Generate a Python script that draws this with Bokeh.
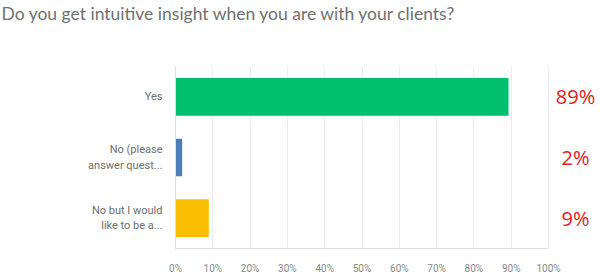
from bokeh.plotting import figure
from bokeh.models import ColumnDataSource, FactorRange, Range1d, FixedTicker, Title
from bokeh.core.properties import value
from bokeh.embed import file_html
from bokeh.resources import INLINE

categories = ["Yes", "No (please\nanswer quest...", "No but I would\nlike to be a..."]
values = [89.29, 1.79, 8.93]
colors = ["#00bf6f", "#507cb6", "#f9be00"]
pct_labels = ["89%", "2%", "9%"]
ticks = [0, 10, 20, 30, 40, 50, 60, 70, 80, 90, 100]
title = "Do you get intuitive insight when you are with your clients?"

src = ColumnDataSource(dict(cat=categories, val=values, color=colors, lab=pct_labels,
                            xlab=[100] * len(categories)))

p = figure(width=600, height=276, output_backend="svg", toolbar_location=None, title=None,
           y_range=FactorRange(*categories[::-1]), x_range=Range1d(0, 100 * 425 / 373),
           min_border_left=175, min_border_right=0, min_border_top=0, min_border_bottom=23)

spacer = Title(text=" ", text_font_size="36px", standoff=0)
p.add_layout(spacer, "above")
main_title = Title(text=title, text_font="Lato", text_font_size="17.5px",
                   text_font_style="normal", text_color="#707070", offset=-174, standoff=0,
                   text_line_height=1.0)
p.add_layout(main_title, "above")

p.hbar(y="cat", right="val", left=0, height=0.62, color="color", source=src, line_color=None)

p.text(x="xlab", y="cat", text="lab", source=src, x_offset=27,
       text_align="center", text_baseline="middle",
       text_font=value("Open Sans"), text_font_size="20px", text_color="#e0201c")

p.xaxis.ticker = FixedTicker(ticks=ticks)
p.xaxis.major_label_overrides = {t: f"{t}%" for t in ticks}
p.xaxis.bounds = (0, 100)
p.xaxis.axis_line_color = "#dddddd"
p.xaxis.major_tick_line_color = None
p.xaxis.minor_tick_line_color = None
p.xaxis.major_label_text_font = "Roboto"
p.xaxis.major_label_text_font_size = "10px"
p.xaxis.major_label_text_color = "#8a8a8a"
p.xaxis.major_label_standoff = 8

p.yaxis.axis_line_color = "#dddddd"
p.yaxis.major_tick_line_color = None
p.yaxis.minor_tick_line_color = None
p.yaxis.major_label_text_font = "Roboto"
p.yaxis.major_label_text_font_size = "11px"
p.yaxis.major_label_text_color = "#6e6e6e"
p.yaxis.major_label_standoff = 7

p.xgrid.grid_line_color = "#ececec"
p.xgrid.bounds = (0, 100)
p.ygrid.grid_line_color = None
p.outline_line_color = None

open("out.html", "w").write(file_html(p, INLINE))
